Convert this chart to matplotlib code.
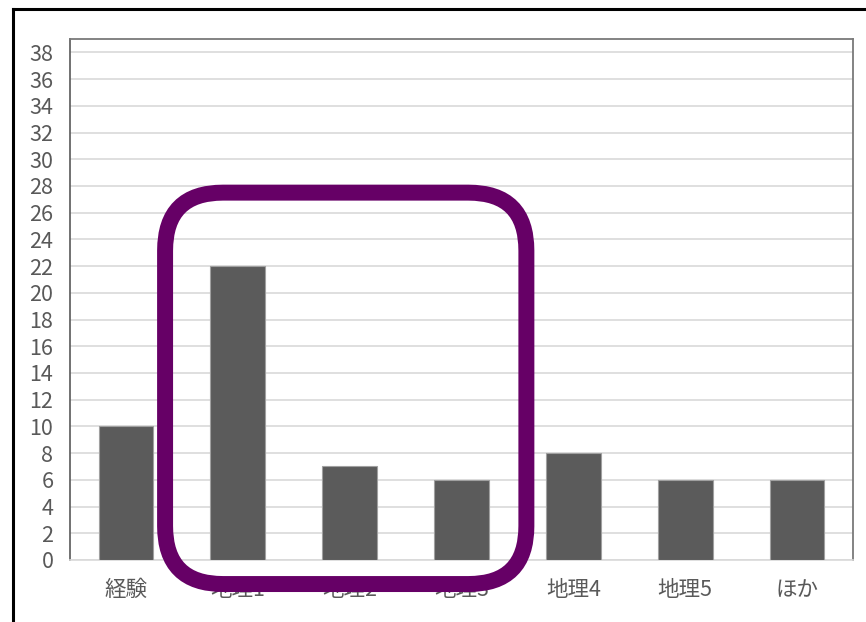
import matplotlib
matplotlib.use("Agg")
import matplotlib.pyplot as plt
from matplotlib.patches import FancyBboxPatch
from matplotlib.lines import Line2D
from matplotlib.transforms import IdentityTransform
import numpy as np

plt.rcParams['font.family'] = ['Noto Sans CJK JP', 'DejaVu Sans']

categories = ["経験", "地理1", "地理2", "地理3", "地理4", "地理5", "ほか"]
values = [10, 22, 7, 6, 8, 6, 6]
yticks = list(range(0, 39, 2))
highlight = ["地理1", "地理2", "地理3"]

W, H = 866, 622
DPI = 100
fig = plt.figure(figsize=(W / DPI, H / DPI), dpi=DPI)
fig.patch.set_facecolor("white")

ax = fig.add_axes([70 / W, (H - 560) / H, (853 - 70) / W, (560 - 39) / H])
x = np.arange(len(categories))
ax.bar(x, values, width=0.49, color="#5b5b5b", edgecolor="#a0a0a0", linewidth=0.8, zorder=3)
ax.set_xlim(-0.5, len(categories) - 0.5)
ax.set_ylim(0, 39)
ax.set_yticks(yticks)
ax.set_xticks(x)
ax.set_xticklabels(categories)
ax.tick_params(axis="both", length=0, labelcolor="#595959")
ax.tick_params(axis="y", pad=12, labelsize=15.5)
ax.tick_params(axis="x", pad=14, labelsize=15.5)
ax.grid(axis="y", color="#d9d9d9", linewidth=1.2, zorder=0)
ax.set_axisbelow(True)
for s in ["top", "right"]:
    ax.spines[s].set_color("#7a7a7a")
    ax.spines[s].set_linewidth(1.3)
ax.spines["left"].set_color("#595959")
ax.spines["left"].set_linewidth(1.2)
ax.spines["bottom"].set_color("#d9d9d9")
ax.spines["bottom"].set_linewidth(1.2)

# Outer black frame (left and top edges)
fig.add_artist(Line2D([13 / W, 13 / W], [0, (H - 9) / H], color="black", linewidth=2.2,
                      transform=fig.transFigure))
fig.add_artist(Line2D([13 / W, 1.0], [(H - 9) / H, (H - 9) / H], color="black", linewidth=2.2,
                      transform=fig.transFigure))

# Purple rounded highlight box around selected categories
i0 = categories.index(highlight[0])
i1 = categories.index(highlight[-1])
(x0, y0) = ax.transData.transform((i0 - 0.65, -1.8))
(x1, y1) = ax.transData.transform((i1 + 0.58, 27.5))
box = FancyBboxPatch((x0, y0), x1 - x0, y1 - y0,
                     boxstyle="round,pad=0,rounding_size=58",
                     facecolor="none", edgecolor="#660066", linewidth=11.5,
                     transform=IdentityTransform(), zorder=10, clip_on=False)
fig.add_artist(box)

fig.savefig("out.png", dpi=DPI, facecolor="white")
